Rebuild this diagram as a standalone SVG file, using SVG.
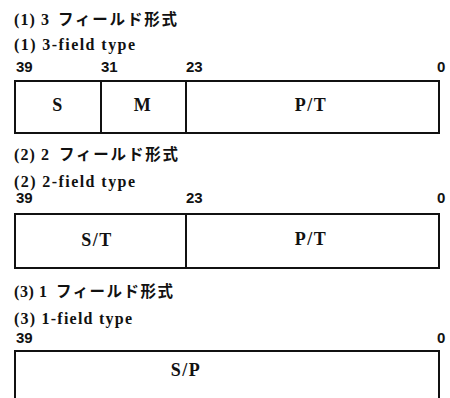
<svg xmlns="http://www.w3.org/2000/svg" width="450" height="398" viewBox="0 0 450 398">
<style>
.bg{fill:#ffffff}
.box{fill:none;stroke:#111;stroke-width:2}
.div{stroke:#111;stroke-width:2}
.ttl{font-family:"Liberation Serif","Noto Sans CJK JP",serif;font-weight:bold;font-size:16px;fill:#111}
.jp{font-family:"Noto Sans CJK JP",sans-serif;font-weight:bold;font-size:15.5px;fill:#111}
.sub{font-family:"Liberation Serif",serif;font-weight:bold;font-size:16px;fill:#111}
.num{font-family:"Liberation Sans",sans-serif;font-weight:bold;font-size:15px;fill:#111}
.lbl{font-family:"Liberation Serif",serif;font-weight:bold;font-size:18px;fill:#111;text-anchor:middle;letter-spacing:1.5px}
</style>
<rect class="bg" x="0" y="0" width="450" height="398"/>

<g id="section1">
  <text class="ttl" x="14" y="25" textLength="35" lengthAdjust="spacing">(1) 3</text>
  <text class="jp" x="58" y="25" textLength="119" lengthAdjust="spacing">フィールド形式</text>
  <text class="sub" x="14" y="50" textLength="121" lengthAdjust="spacing">(1) 3-field type</text>
  <text class="num" x="16" y="72">39</text>
  <text class="num" x="101" y="72">31</text>
  <text class="num" x="186" y="72">23</text>
  <text class="num" x="437" y="72">0</text>
</g>
<g id="box1">
  <rect class="box" x="15" y="81" width="424" height="52"/>
  <line class="div" x1="101" y1="81" x2="101" y2="133"/>
  <line class="div" x1="186" y1="81" x2="186" y2="133"/>
  <text class="lbl" x="58" y="111">S</text>
  <text class="lbl" x="143" y="111">M</text>
  <text class="lbl" x="311" y="111">P/T</text>
</g>

<g id="section2">
  <text class="ttl" x="14" y="160" textLength="35" lengthAdjust="spacing">(2) 2</text>
  <text class="jp" x="59" y="160" textLength="119" lengthAdjust="spacing">フィールド形式</text>
  <text class="sub" x="14" y="187" textLength="121" lengthAdjust="spacing">(2) 2-field type</text>
  <text class="num" x="16" y="203">39</text>
  <text class="num" x="186" y="203">23</text>
  <text class="num" x="437" y="203">0</text>
</g>
<g id="box2">
  <rect class="box" x="15" y="214" width="424" height="54"/>
  <line class="div" x1="186" y1="214" x2="186" y2="268"/>
  <text class="lbl" x="97" y="246">S/T</text>
  <text class="lbl" x="311" y="245">P/T</text>
</g>

<g id="section3">
  <text class="ttl" x="14" y="297" textLength="33" lengthAdjust="spacing">(3) 1</text>
  <text class="jp" x="56" y="297" textLength="117" lengthAdjust="spacing">フィールド形式</text>
  <text class="sub" x="14" y="324" textLength="118" lengthAdjust="spacing">(3) 1-field type</text>
  <text class="num" x="16" y="343">39</text>
  <text class="num" x="437" y="343">0</text>
</g>
<g id="box3">
  <rect class="box" x="15" y="351" width="424" height="60"/>
  <text class="lbl" x="186" y="376">S/P</text>
</g>
</svg>
